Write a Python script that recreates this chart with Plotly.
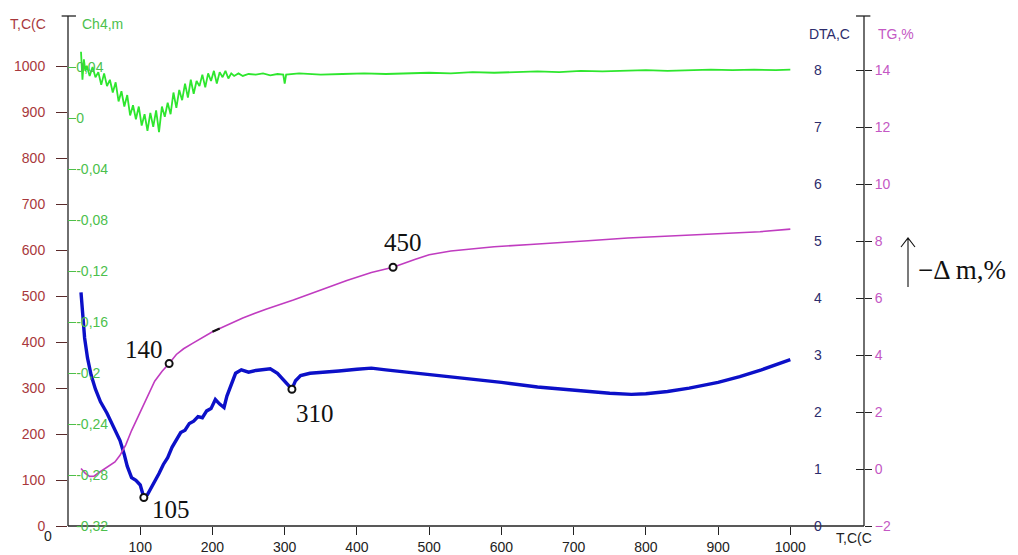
import plotly.graph_objects as go

# ---------------- data ----------------
# CH4 signal (left green axis) vs temperature
ch4_t = [18, 20, 22, 24, 26, 30, 34, 38, 42, 46, 50, 54, 58, 62, 66, 70, 74, 78, 82, 86,
         90, 94, 98, 102, 106, 110, 114, 118, 122, 126, 130, 134, 138, 142, 146, 150, 154,
         158, 162, 166, 170, 174, 178, 182, 186, 190, 194, 198, 202, 206, 210, 214, 218,
         222, 226, 230, 236, 242, 250, 260, 270, 280, 290, 298, 300, 302, 320, 350, 380,
         410, 440, 470, 500, 530, 560, 590, 620, 650, 680, 710, 740, 770, 800, 830, 860,
         890, 920, 950, 980, 1000]
ch4_v = [0.052, 0.030, 0.046, 0.037, 0.041, 0.033, 0.040, 0.032, 0.036, 0.026, 0.035,
         0.025, 0.030, 0.020, 0.028, 0.013, 0.021, 0.009, 0.018, 0.002, 0.010, -0.001,
         0.009, -0.006, 0.003, -0.010, 0.004, -0.007, 0.006, -0.011, 0.009, 0.001, 0.012,
         0.003, 0.020, 0.008, 0.022, 0.014, 0.027, 0.016, 0.030, 0.019, 0.029, 0.025,
         0.034, 0.024, 0.035, 0.029, 0.037, 0.027, 0.036, 0.032, 0.037, 0.031, 0.035,
         0.033, 0.035, 0.033, 0.0345, 0.034, 0.035, 0.0335, 0.0345, 0.034, 0.027, 0.034,
         0.035, 0.034, 0.0345, 0.035, 0.0345, 0.035, 0.0355, 0.035, 0.036, 0.0355, 0.036,
         0.0365, 0.036, 0.037, 0.0365, 0.037, 0.0375, 0.037, 0.0375, 0.038, 0.0375,
         0.038, 0.0375, 0.038]

# DTA signal (right navy axis)
dta_t = [18, 20, 23, 27, 32, 38, 45, 54, 62, 72, 78, 82, 88, 94, 100, 105, 110, 116, 120,
         126, 132, 138, 144, 150, 156, 162, 168, 174, 180, 186, 192, 198, 204, 210, 216,
         220, 226, 232, 240, 250, 260, 270, 280, 290, 296, 300, 305, 310, 315, 322, 335,
         350, 375, 400, 420, 440, 470, 500, 550, 600, 650, 700, 750, 780, 800, 830, 860,
         900, 930, 960, 1000]
dta_v = [4.10, 3.70, 3.30, 2.95, 2.65, 2.40, 2.18, 1.98, 1.78, 1.50, 1.25, 1.05, 0.85,
         0.80, 0.72, 0.50, 0.55, 0.68, 0.78, 0.92, 1.08, 1.20, 1.38, 1.50, 1.64, 1.68,
         1.80, 1.84, 1.92, 1.90, 2.02, 2.06, 2.22, 2.14, 2.08, 2.28, 2.50, 2.68, 2.74,
         2.70, 2.73, 2.74, 2.76, 2.68, 2.60, 2.55, 2.47, 2.40, 2.55, 2.64, 2.68, 2.70,
         2.72, 2.75, 2.77, 2.74, 2.70, 2.66, 2.60, 2.52, 2.44, 2.38, 2.33, 2.31, 2.32,
         2.36, 2.42, 2.52, 2.62, 2.74, 2.92]

# TG mass loss (right magenta axis)
tg_t = [18, 24, 30, 36, 42, 50, 58, 65, 72, 80, 88, 96, 104, 112, 120, 130, 140, 150,
        160, 173, 186, 200, 210, 220, 242, 275, 312, 350, 386, 420, 450, 480, 500, 530,
        560, 590, 640, 680, 720, 775, 820, 865, 910, 958, 1000]
tg_v = [0.02, -0.15, -0.26, -0.25, -0.14, 0.00, 0.12, 0.25, 0.48, 0.85, 1.35, 1.78,
        2.22, 2.70, 3.08, 3.42, 3.70, 4.02, 4.22, 4.42, 4.62, 4.82, 4.93, 5.04, 5.30,
        5.62, 5.93, 6.28, 6.62, 6.90, 7.08, 7.35, 7.52, 7.65, 7.73, 7.80, 7.88, 7.94,
        8.01, 8.11, 8.16, 8.22, 8.27, 8.33, 8.42]

# labelled points
dta_peaks = [105, 310]
tg_points = [140, 450]

# axis ticks
x_ticks = [100, 200, 300, 400, 500, 600, 700, 800, 900, 1000]
t_ticks = [0, 100, 200, 300, 400, 500, 600, 700, 800, 900, 1000]
ch4_ticks = [0.04, 0, -0.04, -0.08, -0.12, -0.16, -0.2, -0.24, -0.28, -0.32]
ch4_text = ["0,04", "0", "-0,04", "-0,08", "-0,12", "-0,16", "-0,2", "-0,24", "-0,28", "-0,32"]
dta_ticks = [0, 1, 2, 3, 4, 5, 6, 7, 8]
tg_ticks = [-2, 0, 2, 4, 6, 8, 10, 12, 14]

# ---------------- style ----------------
RED = "#a8383c"
GREEN_TXT = "#4cbf4c"
GREEN = "#2ee62e"
NAVY = "#2c2c6c"
BLUE = "#0c10c8"
MAG_TXT = "#c458c4"
MAG = "#c03cc0"
AXIS = "#222222"
FONT = "Liberation Sans, Arial, sans-serif"
SERIF = "Liberation Serif, Times New Roman, serif"

fig = go.Figure()

# placeholder on the temperature axis so it is drawn
fig.add_trace(go.Scatter(x=[None], y=[None], yaxis="y", showlegend=False, hoverinfo="skip"))

fig.add_trace(go.Scatter(x=ch4_t, y=ch4_v, yaxis="y2", mode="lines",
                         line=dict(color=GREEN, width=1.8), showlegend=False))
fig.add_trace(go.Scatter(x=tg_t, y=tg_v, yaxis="y4", mode="lines",
                         line=dict(color=MAG, width=1.6), showlegend=False))

# short black segment on the TG curve
seg_t = [t for t in tg_t if 200 <= t <= 210]
seg_v = [tg_v[tg_t.index(t)] for t in seg_t]
fig.add_trace(go.Scatter(x=seg_t, y=seg_v, yaxis="y4", mode="lines",
                         line=dict(color="#111111", width=2.2), showlegend=False))

fig.add_trace(go.Scatter(x=dta_t, y=dta_v, yaxis="y3", mode="lines",
                         line=dict(color=BLUE, width=3.4), showlegend=False))

# markers on labelled points
dta_pk_v = [dta_v[dta_t.index(t)] for t in dta_peaks]
tg_pt_v = [tg_v[tg_t.index(t)] for t in tg_points]
mk = dict(symbol="circle", size=7, color="white", line=dict(color="#111111", width=2))
fig.add_trace(go.Scatter(x=dta_peaks, y=dta_pk_v, yaxis="y3", mode="markers",
                         marker=mk, showlegend=False))
fig.add_trace(go.Scatter(x=tg_points, y=tg_pt_v, yaxis="y4", mode="markers",
                         marker=mk, showlegend=False))

# point labels
lab_font = dict(family=SERIF, size=25, color="#111111")
shifts = {105: ("left", 6, -12), 310: ("left", 2, -24)}
for t, v in zip(dta_peaks, dta_pk_v):
    xa, xs, ys = shifts[t]
    fig.add_annotation(x=t, y=v, xref="x", yref="y3", text=str(t), showarrow=False,
                       xanchor=xa, yanchor="middle", xshift=xs, yshift=ys, font=lab_font)
shifts = {140: ("right", -4, 14), 450: ("center", 10, 25)}
for t, v in zip(tg_points, tg_pt_v):
    xa, xs, ys = shifts[t]
    fig.add_annotation(x=t, y=v, xref="x", yref="y4", text=str(t), showarrow=False,
                       xanchor=xa, yanchor="middle", xshift=xs, yshift=ys, font=lab_font)

tick_font = dict(family=FONT, size=14)

fig.update_layout(
    width=1018, height=555,
    margin=dict(l=68, r=154, t=16, b=29),
    paper_bgcolor="white", plot_bgcolor="white",
    showlegend=False,
    xaxis=dict(range=[0, 1102], tickvals=x_ticks, ticks="outside", ticklen=8,
               tickcolor=AXIS, showline=False,
               showgrid=False, zeroline=False, tickfont=dict(tick_font, color=AXIS),
               automargin=False),
    yaxis=dict(range=[0, 1110], tickvals=t_ticks, ticks="outside", ticklen=11,
               tickcolor="#5a2a2a", showline=False,
               showgrid=False, zeroline=False, tickfont=dict(tick_font, color=RED),
               ticklabelstandoff=8, automargin=False),
    yaxis2=dict(range=[-0.32, 0.08], overlaying="y", side="left", anchor="x",
                tickvals=ch4_ticks, ticktext=ch4_text, ticks="inside", ticklen=8,
                tickcolor=GREEN_TXT, ticklabelposition="inside", ticklabeloverflow="allow",
                showline=False, showgrid=False, zeroline=False,
                tickfont=dict(tick_font, color=GREEN_TXT), automargin=False),
    yaxis3=dict(range=[0, 8.95], overlaying="y", side="right", anchor="x",
                tickvals=dta_ticks, ticks="inside", ticklen=8, tickcolor=AXIS,
                ticklabelposition="inside", ticklabeloverflow="allow", ticklabelstandoff=34,
                showline=False, showgrid=False, zeroline=False,
                tickfont=dict(tick_font, color=NAVY), automargin=False),
    yaxis4=dict(range=[-2, 15.9], overlaying="y", side="right", anchor="x",
                tickvals=tg_ticks, ticks="outside", ticklen=7, tickcolor=AXIS,
                showline=False, showgrid=False, zeroline=False,
                tickfont=dict(tick_font, color=MAG_TXT), automargin=False),
)

# frame: left and right vertical axis lines, bottom axis line, caps at the top
frame = dict(color=AXIS, width=1.3)
fig.add_shape(type="line", xref="paper", yref="paper", x0=0, x1=0, y0=0, y1=1, line=frame, layer="below")
fig.add_shape(type="line", xref="paper", yref="paper", x0=1, x1=1, y0=0, y1=1, line=frame, layer="below")
fig.add_shape(type="line", xref="paper", yref="paper", x0=0, x1=1, y0=0, y1=0, line=frame, layer="below")
fig.add_shape(type="line", xref="paper", yref="paper", x0=-0.008, x1=0.010, y0=1, y1=1, line=frame)
fig.add_shape(type="line", xref="paper", yref="paper", x0=0.990, x1=1.008, y0=1, y1=1, line=frame)

# axis titles
title_font = dict(family=FONT, size=14)
fig.add_annotation(xref="paper", yref="paper", x=-0.050, y=1.004, xanchor="center",
                   text="T,C(C", showarrow=False, font=dict(title_font, color=RED))
fig.add_annotation(xref="paper", yref="paper", x=0.015, y=1.004, xanchor="left",
                   text="Ch4,m", showarrow=False, font=dict(title_font, color=GREEN_TXT))
fig.add_annotation(xref="paper", yref="paper", x=0.957, y=0.984, xanchor="center",
                   text="DTA,C", showarrow=False, font=dict(title_font, color=NAVY))
fig.add_annotation(xref="paper", yref="paper", x=1.040, y=0.984, xanchor="center",
                   text="TG,%", showarrow=False, font=dict(title_font, color=MAG_TXT))
fig.add_annotation(xref="paper", yref="paper", x=0.9874, y=-0.044, xanchor="center",
                   text="T,C(C", showarrow=False, font=dict(title_font, color=AXIS))
fig.add_annotation(xref="x", yref="paper", x=0, y=-0.040, xshift=-20, xanchor="center",
                   text="0", showarrow=False, font=dict(tick_font, color=AXIS))

# mass-loss direction marker: thin open arrow pointing up
fig.add_shape(type="path", xref="paper", yref="paper",
              path="M 1.04648,0.54706 L 1.05528,0.56471 L 1.06407,0.54706 "
                   "M 1.05528,0.56471 L 1.05528,0.46863",
              line=dict(color="#111111", width=1.1))
fig.add_annotation(xref="paper", yref="paper", x=1.0655, y=0.502, xanchor="left",
                   text="\u2212\u0394 m,%", showarrow=False,
                   font=dict(family=SERIF, size=27, color="#111111"))

fig.write_html("out.html")
